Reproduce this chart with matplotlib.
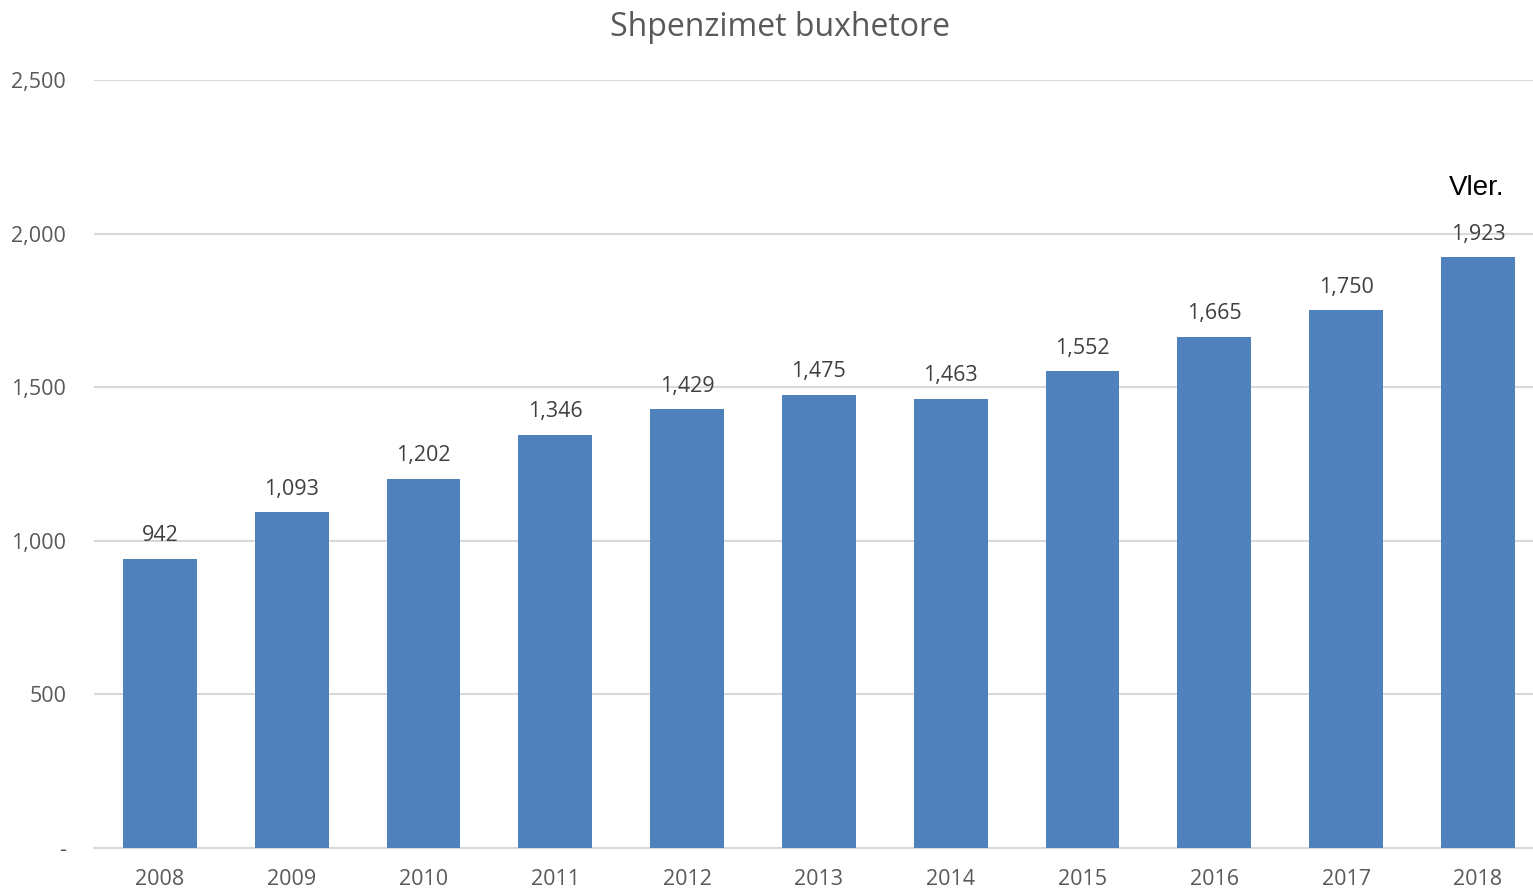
import matplotlib.pyplot as plt
import numpy as np
from matplotlib.ticker import FuncFormatter

years = ["2008", "2009", "2010", "2011", "2012", "2013", "2014", "2015", "2016", "2017", "2018"]
values = [942, 1093, 1202, 1346, 1429, 1475, 1463, 1552, 1665, 1750, 1923]

plt.rcParams['font.family'] = ['Open Sans', 'DejaVu Sans']

W, H = 1533, 889
fig = plt.figure(figsize=(W/100, H/100), dpi=100)
ax = fig.add_axes([94/W, 1 - 848/H, 11*131.8/W, (848-80)/H])

x = np.arange(len(years))
bars = ax.bar(x, values, width=0.56, color="#4F81BD", zorder=3)

for xi, v in zip(x, values):
    ax.annotate(f"{v:,}", (xi, v), xytext=(0, 9), textcoords="offset points",
                ha="center", va="bottom", fontsize=15.5, color="#404040", zorder=4)

ax.set_xlim(-0.5, 10.5)
ax.set_ylim(0, 2500)
ax.set_yticks([0, 500, 1000, 1500, 2000, 2500])
ax.yaxis.set_major_formatter(FuncFormatter(lambda v, p: "-" if v == 0 else f"{int(v):,}"))
ax.set_xticks(x)
ax.set_xticklabels(years)
ax.tick_params(axis="both", length=0, labelsize=15.5, labelcolor="#595959")
ax.tick_params(axis="y", pad=20)
ax.tick_params(axis="x", pad=15)
ax.grid(axis="y", color="#D9D9D9", linewidth=1.5, zorder=0)
for s in ["top", "right", "left"]:
    ax.spines[s].set_visible(False)
ax.spines["bottom"].set_color("#D9D9D9")
ax.spines["bottom"].set_linewidth(1.5)

fig.text(780/W, 1 - 28/H, "Shpenzimet buxhetore", ha="center", va="center",
         fontsize=23, color="#595959")
ax.text(9.99, 2150, "Vler.", ha="center", va="center", fontsize=20,
        color="black", family="Liberation Sans")

fig.savefig("out.png", dpi=100)
